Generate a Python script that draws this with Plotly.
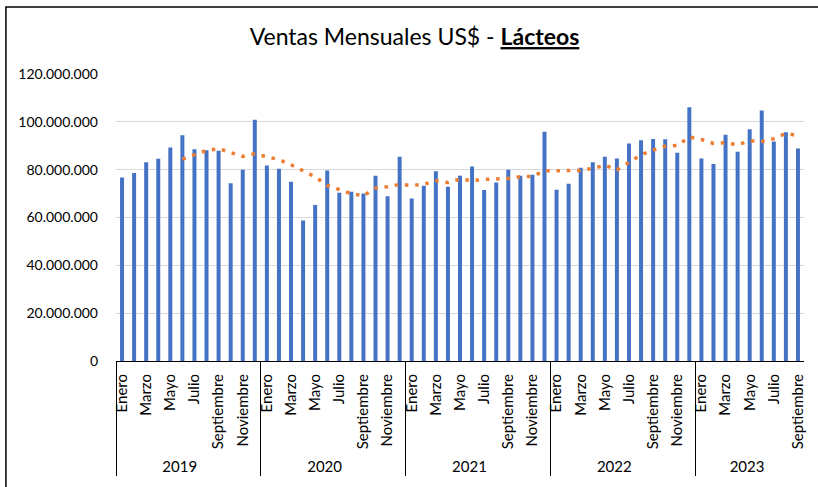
import plotly.graph_objects as go
import pandas as pd

years = ["2019", "2020", "2021", "2022", "2023"]
months = ["Enero", "Febrero", "Marzo", "Abril", "Mayo", "Junio", "Julio", "Agosto",
          "Septiembre", "Octubre", "Noviembre", "Diciembre"]

ventas_2019 = [76.7, 78.6, 83.1, 84.6, 89.3, 94.4, 88.5, 88.1, 87.9, 74.3, 80.0, 100.9]
ventas_2020 = [81.7, 80.4, 75.0, 58.7, 65.2, 79.6, 70.4, 70.8, 70.0, 77.5, 68.9, 85.4]
ventas_2021 = [67.9, 73.3, 79.3, 72.9, 77.5, 81.3, 71.5, 74.6, 80.0, 77.5, 77.9, 95.9]
ventas_2022 = [71.6, 74.1, 80.8, 83.1, 85.4, 84.7, 90.9, 92.3, 92.8, 92.7, 87.1, 106.1]
ventas_2023 = [84.7, 82.4, 94.6, 87.5, 96.9, 104.7, 91.8, 95.6, 88.8]

ytick_vals = [0, 20e6, 40e6, 60e6, 80e6, 100e6, 120e6]
ytick_text = ["0", "20.000.000", "40.000.000", "60.000.000", "80.000.000",
              "100.000.000", "120.000.000"]

series = [ventas_2019, ventas_2020, ventas_2021, ventas_2022, ventas_2023]
x_year, x_month, y_vals = [], [], []
for yr, vals in zip(years, series):
    for i, v in enumerate(vals):
        x_year.append(yr)
        # only odd months are labelled; unlabelled ones get unique blank names
        x_month.append(months[i] if i % 2 == 0 else " " * (i // 2 + 1))
        y_vals.append(v * 1e6)

# 6-month moving-average trendline of the bar values
trend = pd.Series(y_vals).rolling(6).mean()

FONT = "Lato"
fig = go.Figure()
fig.add_trace(go.Bar(x=[x_year, x_month], y=y_vals, marker_color="#4472C4",
                     marker_line_width=0, name="Ventas"))
fig.add_trace(go.Scatter(x=[x_year, x_month], y=trend, mode="lines",
                         line=dict(color="#ED7D31", width=3.5, dash="3.5px,6.8px"),
                         name="Media móvil"))

fig.update_layout(
    width=818, height=487,
    margin=dict(l=116, r=14, t=74, b=126),
    paper_bgcolor="white", plot_bgcolor="white",
    showlegend=False, bargap=0.67,
    font=dict(family=FONT, color="#262626"),
    title=dict(text="Ventas Mensuales US$ - <b><u>Lácteos</u></b>",
               x=414.5 / 818, xref="container", xanchor="center", y=1 - 37 / 487,
               yref="container", yanchor="middle",
               font=dict(size=23, color="black", family=FONT)),
    shapes=[dict(type="rect", xref="paper", yref="paper", x0=-0.16, x1=2,
                 y0=-2, y1=(361 - 7) / 287, line=dict(color="black", width=1.5),
                 fillcolor="rgba(0,0,0,0)", layer="below")],
)
fig.update_yaxes(range=[0, 120e6], tickvals=ytick_vals, ticktext=ytick_text,
                 showgrid=True, gridcolor="#D9D9D9", gridwidth=1, zeroline=False,
                 showline=False, ticks="", ticklabelstandoff=17,
                 tickfont=dict(size=14, family=FONT, color="black"),
                 automargin=False)
fig.update_xaxes(type="multicategory", tickangle=-90, showline=True, linecolor="black",
                 linewidth=1, showgrid=False, ticks="", showdividers=True,
                 dividercolor="black", dividerwidth=1, ticklabelstandoff=6,
                 tickfont=dict(size=15, family=FONT, color="black"), automargin=False)

fig.write_html("out.html", config={"displayModeBar": False},
               post_script="document.body.style.margin='0';")
